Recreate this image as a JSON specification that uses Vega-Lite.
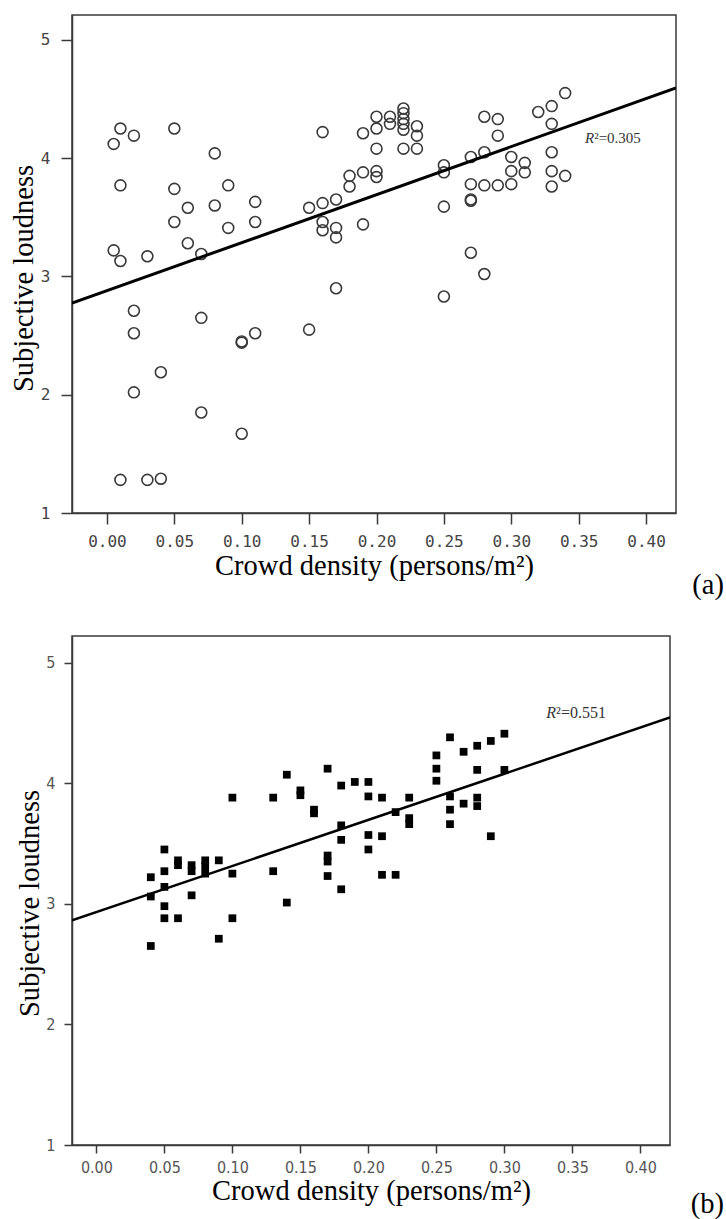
{
  "$schema": "https://vega.github.io/schema/vega-lite/v6.json",
  "background": "white",
  "padding": {"left": 8, "top": 14, "right": 0, "bottom": 0},
  "spacing": 35,
  "config": {
    "view": {"stroke": "#3a3a3a", "strokeWidth": 1.5},
    "axis": {"grid": false, "domainColor": "#3a3a3a", "domainWidth": 1.5, "tickColor": "#3a3a3a", "tickWidth": 1.5, "titleFont": "Liberation Serif", "titleFontWeight": "normal", "titleColor": "#000", "titleFontSize": 28.5, "labelFlush": false, "labelOverlap": false}
  },
  "datasets": {
    "a": [
      {"density": 0.005, "loudness": 4.12}, {"density": 0.01, "loudness": 4.25}, {"density": 0.02, "loudness": 4.19}, {"density": 0.05, "loudness": 4.25}, {"density": 0.08, "loudness": 4.04},
      {"density": 0.01, "loudness": 3.77}, {"density": 0.05, "loudness": 3.74}, {"density": 0.09, "loudness": 3.77}, {"density": 0.06, "loudness": 3.58}, {"density": 0.08, "loudness": 3.60}, {"density": 0.11, "loudness": 3.63},
      {"density": 0.05, "loudness": 3.46}, {"density": 0.09, "loudness": 3.41}, {"density": 0.11, "loudness": 3.46}, {"density": 0.06, "loudness": 3.28}, {"density": 0.07, "loudness": 3.19},
      {"density": 0.005, "loudness": 3.22}, {"density": 0.01, "loudness": 3.13}, {"density": 0.03, "loudness": 3.17},
      {"density": 0.17, "loudness": 2.90}, {"density": 0.16, "loudness": 4.22}, {"density": 0.19, "loudness": 4.21}, {"density": 0.18, "loudness": 3.85}, {"density": 0.18, "loudness": 3.76}, {"density": 0.19, "loudness": 3.88},
      {"density": 0.15, "loudness": 3.58}, {"density": 0.16, "loudness": 3.62}, {"density": 0.17, "loudness": 3.65}, {"density": 0.16, "loudness": 3.46}, {"density": 0.16, "loudness": 3.39}, {"density": 0.17, "loudness": 3.41}, {"density": 0.17, "loudness": 3.33}, {"density": 0.19, "loudness": 3.44},
      {"density": 0.02, "loudness": 2.71}, {"density": 0.02, "loudness": 2.52}, {"density": 0.07, "loudness": 2.65}, {"density": 0.10, "loudness": 2.44}, {"density": 0.10, "loudness": 2.45}, {"density": 0.11, "loudness": 2.52}, {"density": 0.15, "loudness": 2.55},
      {"density": 0.04, "loudness": 2.19}, {"density": 0.02, "loudness": 2.02}, {"density": 0.07, "loudness": 1.85}, {"density": 0.10, "loudness": 1.67}, {"density": 0.01, "loudness": 1.28}, {"density": 0.03, "loudness": 1.28}, {"density": 0.04, "loudness": 1.29}, {"density": 0.25, "loudness": 2.83},
      {"density": 0.20, "loudness": 4.35}, {"density": 0.20, "loudness": 4.25}, {"density": 0.20, "loudness": 4.08}, {"density": 0.20, "loudness": 3.89}, {"density": 0.20, "loudness": 3.84},
      {"density": 0.21, "loudness": 4.35}, {"density": 0.21, "loudness": 4.29},
      {"density": 0.22, "loudness": 4.42}, {"density": 0.22, "loudness": 4.38}, {"density": 0.22, "loudness": 4.33}, {"density": 0.22, "loudness": 4.29}, {"density": 0.22, "loudness": 4.24}, {"density": 0.22, "loudness": 4.08},
      {"density": 0.23, "loudness": 4.27}, {"density": 0.23, "loudness": 4.19}, {"density": 0.23, "loudness": 4.08},
      {"density": 0.25, "loudness": 3.94}, {"density": 0.25, "loudness": 3.88}, {"density": 0.25, "loudness": 3.59},
      {"density": 0.27, "loudness": 4.01}, {"density": 0.27, "loudness": 3.78}, {"density": 0.27, "loudness": 3.65}, {"density": 0.27, "loudness": 3.64}, {"density": 0.27, "loudness": 3.20},
      {"density": 0.28, "loudness": 4.05}, {"density": 0.28, "loudness": 3.77}, {"density": 0.28, "loudness": 3.02}, {"density": 0.28, "loudness": 4.35},
      {"density": 0.29, "loudness": 4.33}, {"density": 0.29, "loudness": 4.19}, {"density": 0.29, "loudness": 3.77},
      {"density": 0.30, "loudness": 4.01}, {"density": 0.30, "loudness": 3.89}, {"density": 0.30, "loudness": 3.78},
      {"density": 0.31, "loudness": 3.96}, {"density": 0.31, "loudness": 3.88}, {"density": 0.32, "loudness": 4.39},
      {"density": 0.33, "loudness": 4.44}, {"density": 0.33, "loudness": 4.29}, {"density": 0.33, "loudness": 4.05}, {"density": 0.33, "loudness": 3.89}, {"density": 0.33, "loudness": 3.76},
      {"density": 0.34, "loudness": 3.85}, {"density": 0.34, "loudness": 4.55}
    ],
    "b": [
      {"density": 0.04, "loudness": 3.22}, {"density": 0.04, "loudness": 3.06}, {"density": 0.04, "loudness": 2.65},
      {"density": 0.05, "loudness": 3.45}, {"density": 0.05, "loudness": 3.27}, {"density": 0.05, "loudness": 3.14}, {"density": 0.05, "loudness": 2.98}, {"density": 0.05, "loudness": 2.88},
      {"density": 0.06, "loudness": 3.36}, {"density": 0.06, "loudness": 3.32}, {"density": 0.06, "loudness": 2.88},
      {"density": 0.07, "loudness": 3.32}, {"density": 0.07, "loudness": 3.27}, {"density": 0.07, "loudness": 3.07},
      {"density": 0.08, "loudness": 3.36}, {"density": 0.08, "loudness": 3.31}, {"density": 0.08, "loudness": 3.25},
      {"density": 0.09, "loudness": 3.36}, {"density": 0.09, "loudness": 2.71},
      {"density": 0.10, "loudness": 3.88}, {"density": 0.10, "loudness": 3.25}, {"density": 0.10, "loudness": 2.88},
      {"density": 0.13, "loudness": 3.88}, {"density": 0.13, "loudness": 3.27},
      {"density": 0.14, "loudness": 4.07}, {"density": 0.14, "loudness": 3.01},
      {"density": 0.15, "loudness": 3.94}, {"density": 0.15, "loudness": 3.90},
      {"density": 0.16, "loudness": 3.78}, {"density": 0.16, "loudness": 3.75},
      {"density": 0.17, "loudness": 4.12}, {"density": 0.17, "loudness": 3.40}, {"density": 0.17, "loudness": 3.35}, {"density": 0.17, "loudness": 3.23},
      {"density": 0.18, "loudness": 3.98}, {"density": 0.18, "loudness": 3.65}, {"density": 0.18, "loudness": 3.53}, {"density": 0.18, "loudness": 3.12},
      {"density": 0.19, "loudness": 4.01},
      {"density": 0.20, "loudness": 4.01}, {"density": 0.20, "loudness": 3.89}, {"density": 0.20, "loudness": 3.57}, {"density": 0.20, "loudness": 3.45},
      {"density": 0.21, "loudness": 3.88}, {"density": 0.21, "loudness": 3.56}, {"density": 0.21, "loudness": 3.24},
      {"density": 0.22, "loudness": 3.76}, {"density": 0.22, "loudness": 3.24},
      {"density": 0.23, "loudness": 3.88}, {"density": 0.23, "loudness": 3.71}, {"density": 0.23, "loudness": 3.66},
      {"density": 0.25, "loudness": 4.23}, {"density": 0.25, "loudness": 4.12}, {"density": 0.25, "loudness": 4.02},
      {"density": 0.26, "loudness": 4.38}, {"density": 0.26, "loudness": 3.89}, {"density": 0.26, "loudness": 3.78}, {"density": 0.26, "loudness": 3.66},
      {"density": 0.27, "loudness": 4.26}, {"density": 0.27, "loudness": 3.83},
      {"density": 0.28, "loudness": 4.31}, {"density": 0.28, "loudness": 4.11}, {"density": 0.28, "loudness": 3.88}, {"density": 0.28, "loudness": 3.81},
      {"density": 0.29, "loudness": 4.35}, {"density": 0.29, "loudness": 3.56},
      {"density": 0.30, "loudness": 4.41}, {"density": 0.30, "loudness": 4.11}
    ],
    "fitA": [{"density": -0.02593, "loudness": 2.774}, {"density": 0.42222, "loudness": 4.594}],
    "fitB": [{"density": -0.01794, "loudness": 2.862}, {"density": 0.42176, "loudness": 4.544}],
    "lblA": [{"density": 0.3615, "loudness": 4.17, "r": "R", "rest": "²=0.305"}],
    "lblB": [{"density": 0.338, "loudness": 4.58, "r": "R", "rest": "²=0.551"}]
  },
  "vconcat": [
    {
      "width": 604,
      "height": 498,
      "title": {"text": "(a)", "orient": "bottom", "anchor": "end", "dx": 48, "offset": -9, "font": "Liberation Serif", "fontSize": 28.5, "fontWeight": "normal", "color": "#000"},
      "encoding": {
        "x": {"field": "density", "type": "quantitative",
          "scale": {"domain": [-0.02593, 0.42222], "nice": false, "zero": false},
          "axis": {"values": [0, 0.05, 0.1, 0.15, 0.2, 0.25, 0.3, 0.35, 0.4], "format": ".2f", "title": "Crowd density (persons/m²)", "labelFont": "DejaVu Sans Mono", "labelFontSize": 16, "labelColor": "#444", "tickSize": 11, "labelPadding": 9, "titlePadding": 2}},
        "y": {"field": "loudness", "type": "quantitative",
          "scale": {"domain": [1, 5.21], "nice": false, "zero": false},
          "axis": {"values": [1, 2, 3, 4, 5], "format": "d", "title": "Subjective loudness", "labelFont": "DejaVu Sans Mono", "labelFontSize": 16, "labelColor": "#444", "tickSize": 11, "labelPadding": 11, "titlePadding": 2, "titleY": 263}}
      },
      "layer": [
        {"data": {"name": "a"}, "mark": {"type": "point", "shape": "circle", "filled": false, "size": 120, "stroke": "#3a3a3a", "strokeWidth": 1.6, "opacity": 1}},
        {"data": {"name": "fitA"}, "mark": {"type": "line", "color": "#000", "strokeWidth": 3, "clip": true}},
        {"data": {"name": "lblA"}, "mark": {"type": "text", "font": "Liberation Serif", "fontStyle": "italic", "fontSize": 15, "align": "right", "baseline": "middle", "color": "#333"}, "encoding": {"text": {"field": "r"}}},
        {"data": {"name": "lblA"}, "mark": {"type": "text", "font": "Liberation Serif", "fontSize": 15, "align": "left", "baseline": "middle", "color": "#333"}, "encoding": {"text": {"field": "rest"}}}
      ]
    },
    {
      "width": 598,
      "height": 509,
      "title": {"text": "(b)", "orient": "bottom", "anchor": "end", "dx": 54, "offset": -15, "font": "Liberation Serif", "fontSize": 28.5, "fontWeight": "normal", "color": "#000"},
      "encoding": {
        "x": {"field": "density", "type": "quantitative",
          "scale": {"domain": [-0.01794, 0.42176], "nice": false, "zero": false},
          "axis": {"values": [0, 0.05, 0.1, 0.15, 0.2, 0.25, 0.3, 0.35, 0.4], "format": ".2f", "title": "Crowd density (persons/m²)", "labelFont": "Liberation Sans Narrow, DejaVu Sans Condensed, sans-serif", "labelFontSize": 16, "labelColor": "#555", "tickSize": 8, "labelPadding": 6, "titlePadding": 1}},
        "y": {"field": "loudness", "type": "quantitative",
          "scale": {"domain": [1, 5.22], "nice": false, "zero": false},
          "axis": {"values": [1, 2, 3, 4, 5], "format": "d", "title": "Subjective loudness", "labelFont": "Liberation Sans Narrow, DejaVu Sans Condensed, sans-serif", "labelFontSize": 16, "labelColor": "#555", "tickSize": 8, "labelPadding": 9, "titlePadding": 1, "titleY": 267}}
      },
      "layer": [
        {"data": {"name": "b"}, "mark": {"type": "point", "shape": "square", "filled": true, "size": 60, "color": "#000", "opacity": 1}},
        {"data": {"name": "fitB"}, "mark": {"type": "line", "color": "#000", "strokeWidth": 2.5, "clip": true}},
        {"data": {"name": "lblB"}, "mark": {"type": "text", "font": "Liberation Serif", "fontStyle": "italic", "fontSize": 16, "align": "right", "baseline": "middle", "color": "#333"}, "encoding": {"text": {"field": "r"}}},
        {"data": {"name": "lblB"}, "mark": {"type": "text", "font": "Liberation Serif", "fontSize": 16, "align": "left", "baseline": "middle", "color": "#333"}, "encoding": {"text": {"field": "rest"}}}
      ]
    }
  ]
}
